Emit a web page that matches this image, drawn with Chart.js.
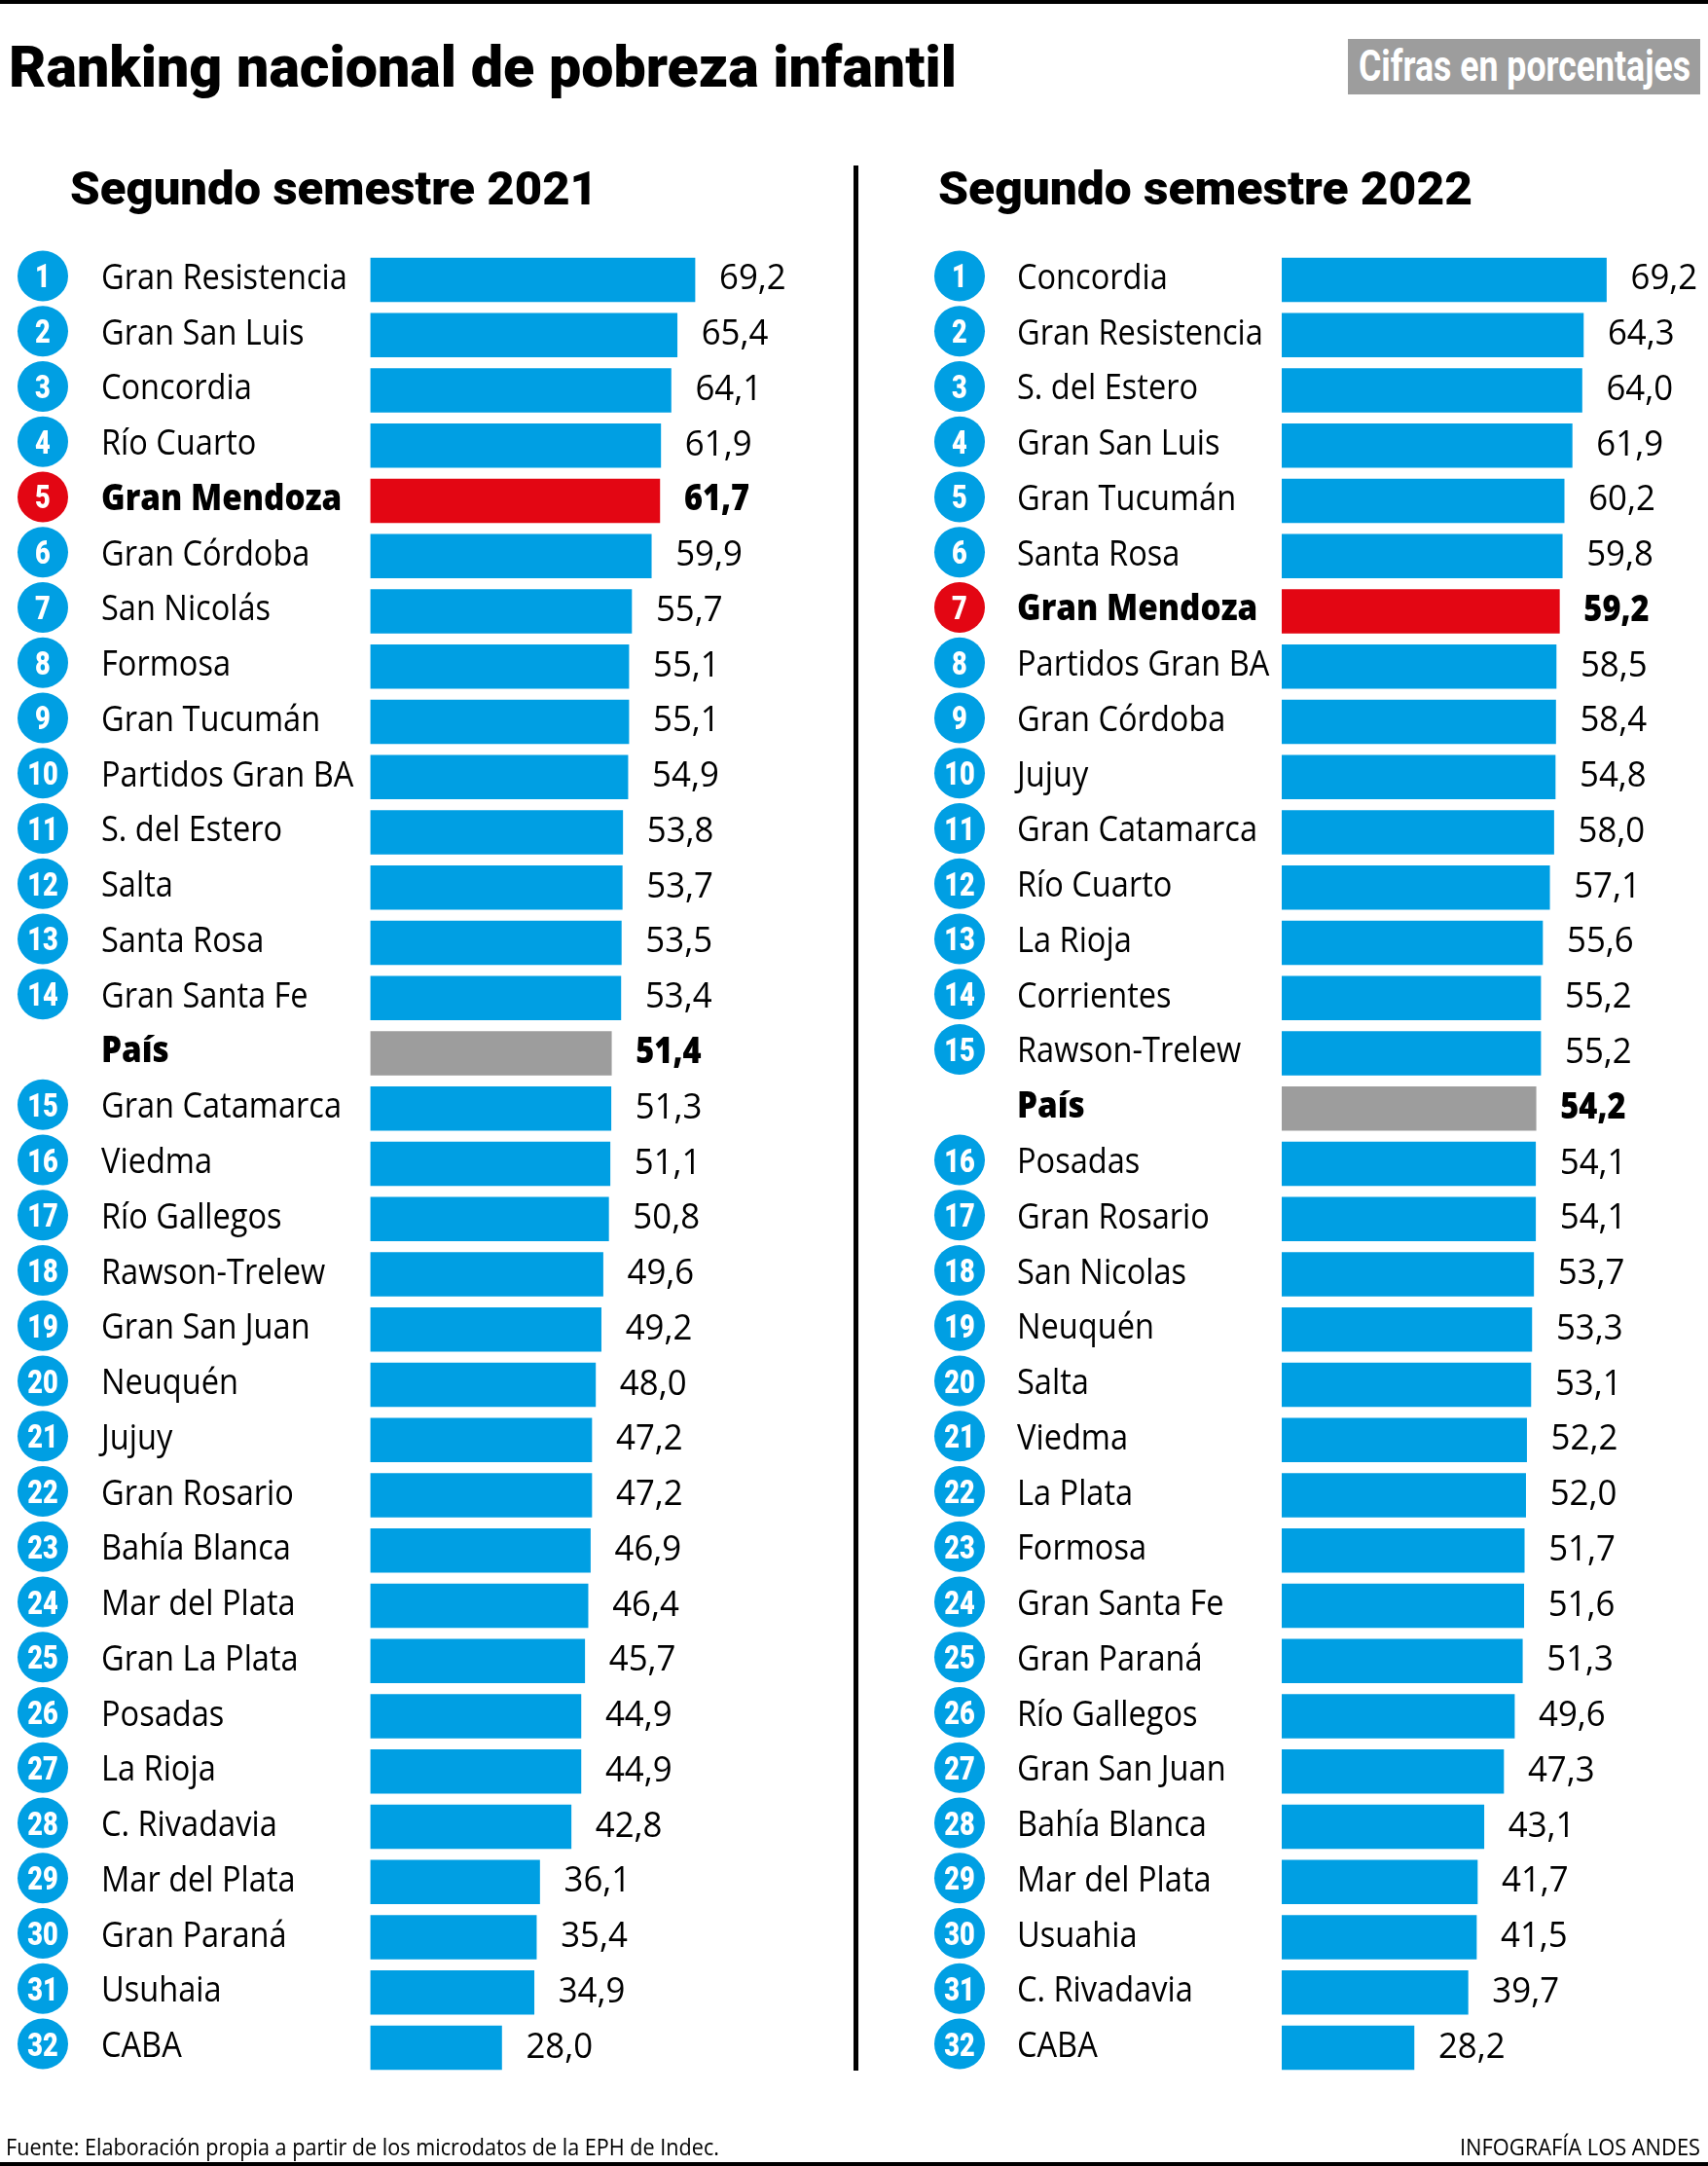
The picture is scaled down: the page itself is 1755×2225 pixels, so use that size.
<!DOCTYPE html>
<html><head><meta charset="utf-8">
<script src="https://cdn.jsdelivr.net/npm/chart.js@4.4.1/dist/chart.umd.min.js"></script>
<style>
html,body{margin:0;padding:0;background:#fff;}
#page{position:relative;width:1755px;height:2225px;overflow:hidden;background:#fff;}
.fit{position:absolute;white-space:nowrap;transform-origin:0 0;line-height:1;color:#000;}
canvas{position:absolute;top:0;}
</style></head>
<body><div id="page">
<div style="position:absolute;left:0;top:0;width:1755px;height:4px;background:#000"></div>
<div class="fit" data-w="974" style="left:9px;top:33px;font:900 60px Roboto;">Ranking nacional de pobreza infantil</div>
<div style="position:absolute;left:1385px;top:40px;width:362px;height:57px;background:#9d9d9d"></div>
<div class="fit" data-w="341" style="left:1396px;top:42px;font:700 44px Roboto;color:#fff;">Cifras en porcentajes</div>
<div class="fit" data-w="542" style="left:72px;top:165px;font:900 48px Roboto;">Segundo semestre 2021</div>
<div class="fit" data-w="549" style="left:964px;top:165px;font:900 48px Roboto;">Segundo semestre 2022</div>
<div style="position:absolute;left:877px;top:170px;width:5px;height:1957px;background:#000"></div>
<canvas id="c2021" width="880" height="2225" style="left:0"></canvas>
<canvas id="c2022" width="875" height="2225" style="left:880px"></canvas>
<div class="fit" data-w="733" style="left:6px;top:2188px;font:400 24px 'Open Sans';">Fuente: Elaboración propia a partir de los microdatos de la EPH de Indec.</div>
<div class="fit" data-w="247" style="left:1500px;top:2188px;font:400 24px 'Open Sans';">INFOGRAFÍA LOS ANDES</div>
<div style="position:absolute;left:0;top:2221px;width:1755px;height:4px;background:#000"></div>
</div>
<script>
// ---- data ----
const cities2021 = ["Gran Resistencia","Gran San Luis","Concordia","Río Cuarto","Gran Mendoza","Gran Córdoba","San Nicolás","Formosa","Gran Tucumán","Partidos Gran BA","S. del Estero","Salta","Santa Rosa","Gran Santa Fe","País","Gran Catamarca","Viedma","Río Gallegos","Rawson-Trelew","Gran San Juan","Neuquén","Jujuy","Gran Rosario","Bahía Blanca","Mar del Plata","Gran La Plata","Posadas","La Rioja","C. Rivadavia","Mar del Plata","Gran Paraná","Usuhaia","CABA"];
const ranks2021 = [1,2,3,4,5,6,7,8,9,10,11,12,13,14,null,15,16,17,18,19,20,21,22,23,24,25,26,27,28,29,30,31,32];
const values2021 = [69.2,65.4,64.1,61.9,61.7,59.9,55.7,55.1,55.1,54.9,53.8,53.7,53.5,53.4,51.4,51.3,51.1,50.8,49.6,49.2,48.0,47.2,47.2,46.9,46.4,45.7,44.9,44.9,42.8,36.1,35.4,34.9,28.0];
const printed2021 = ["69,2","65,4","64,1","61,9","61,7","59,9","55,7","55,1","55,1","54,9","53,8","53,7","53,5","53,4","51,4","51,3","51,1","50,8","49,6","49,2","48,0","47,2","47,2","46,9","46,4","45,7","44,9","44,9","42,8","36,1","35,4","34,9","28,0"];

const cities2022 = ["Concordia","Gran Resistencia","S. del Estero","Gran San Luis","Gran Tucumán","Santa Rosa","Gran Mendoza","Partidos Gran BA","Gran Córdoba","Jujuy","Gran Catamarca","Río Cuarto","La Rioja","Corrientes","Rawson-Trelew","País","Posadas","Gran Rosario","San Nicolas","Neuquén","Salta","Viedma","La Plata","Formosa","Gran Santa Fe","Gran Paraná","Río Gallegos","Gran San Juan","Bahía Blanca","Mar del Plata","Usuahia","C. Rivadavia","CABA"];
const ranks2022 = [1,2,3,4,5,6,7,8,9,10,11,12,13,14,15,null,16,17,18,19,20,21,22,23,24,25,26,27,28,29,30,31,32];
const values2022 = [69.2,64.3,64.0,61.9,60.2,59.8,59.2,58.5,58.4,58.3,58.0,57.1,55.6,55.2,55.2,54.2,54.1,54.1,53.7,53.3,53.1,52.2,52.0,51.7,51.6,51.3,49.6,47.3,43.1,41.7,41.5,39.7,28.2];
const printed2022 = ["69,2","64,3","64,0","61,9","60,2","59,8","59,2","58,5","58,4","54,8","58,0","57,1","55,6","55,2","55,2","54,2","54,1","54,1","53,7","53,3","53,1","52,2","52,0","51,7","51,6","51,3","49,6","47,3","43,1","41,7","41,5","39,7","28,2"];

const BLUE = "#009fe3", RED = "#e30613", GRAY = "#9d9d9d";
const HIGHLIGHT = "Gran Mendoza", NATIONAL = "País";

// fit HTML titles to their width
document.querySelectorAll('.fit').forEach(el => {
  const w = el.getBoundingClientRect().width;
  el.style.transform = 'scaleX(' + (parseFloat(el.dataset.w) / w) + ')';
});

function drawText(ctx, t, x, y, font, color, align, sx) {
  ctx.save();
  ctx.translate(x, y);
  ctx.scale(sx, 1);
  ctx.font = font;
  ctx.fillStyle = color;
  ctx.textAlign = align;
  ctx.textBaseline = 'alphabetic';
  ctx.fillText(t, 0, 0);
  ctx.restore();
}

function rowPlugin(names, ranks, printed, circleX, nameX) {
  return {
    id: 'rows',
    afterDatasetsDraw(chart) {
      const ctx = chart.ctx;
      chart.getDatasetMeta(0).data.forEach((bar, i) => {
        const y = bar.y;
        const bold = names[i] === HIGHLIGHT || names[i] === NATIONAL;
        const cy = y - 4;
        if (ranks[i] != null) {
          ctx.beginPath();
          ctx.arc(circleX, cy, 26, 0, Math.PI * 2);
          ctx.fillStyle = names[i] === HIGHLIGHT ? RED : BLUE;
          ctx.fill();
          drawText(ctx, String(ranks[i]), circleX, cy + 12, '900 34px Roboto', '#fff', 'center', 0.8);
        }
        drawText(ctx, names[i], nameX, y + 9.5, (bold ? '800 ' : '400 ') + '37px "Open Sans"', '#000', 'left', bold ? 0.9 : 0.88);
        drawText(ctx, printed[i], bar.x + 25, y + 10, (bold ? '800 ' : '400 ') + '37px "Open Sans"', '#000', 'left', bold ? 0.88 : 0.94);
      });
    }
  };
}

function makeChart(id, names, ranks, values, printed, padLeft, padRight, circleX, nameX) {
  const colors = names.map(n => n === HIGHLIGHT ? RED : (n === NATIONAL ? GRAY : BLUE));
  return new Chart(document.getElementById(id), {
    type: 'bar',
    data: { labels: names, datasets: [{ data: values, backgroundColor: colors, borderWidth: 0, barThickness: 45 }] },
    options: {
      indexAxis: 'y', responsive: false, animation: false, devicePixelRatio: 1,
      layout: { padding: { left: padLeft, right: padRight, top: 259.1, bottom: 93.1 } },
      scales: { x: { display: false, min: 0, max: 90 }, y: { display: false } },
      plugins: { legend: { display: false }, tooltip: { enabled: false }, title: { display: false } }
    },
    plugins: [rowPlugin(names, ranks, printed, circleX, nameX)]
  });
}

makeChart('c2021', cities2021, ranks2021, values2021, printed2021, 380.5, 65.7, 44, 104);
makeChart('c2022', cities2022, ranks2022, values2022, printed2022, 437, 4.2, 106, 165);
</script>
</body></html>
